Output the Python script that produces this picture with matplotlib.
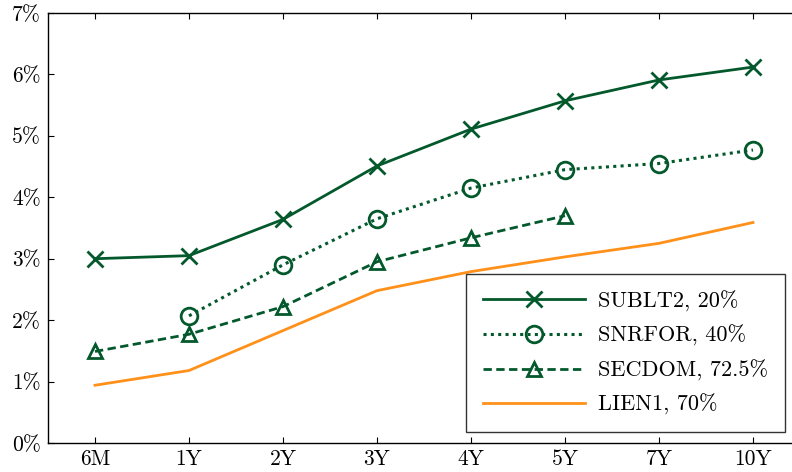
import matplotlib
matplotlib.use("Agg")
import matplotlib.pyplot as plt

# tenors on the x axis
tenors = ["6M", "1Y", "2Y", "3Y", "4Y", "5Y", "7Y", "10Y"]
yticks = [0, 1, 2, 3, 4, 5, 6, 7]
ytick_labels = ["0%", "1%", "2%", "3%", "4%", "5%", "6%", "7%"]

# spreads in percent
sublt2 = [3.00, 3.05, 3.64, 4.51, 5.11, 5.57, 5.91, 6.12]
snrfor = [None, 2.07, 2.90, 3.65, 4.15, 4.45, 4.55, 4.77]
secdom = [1.49, 1.77, 2.22, 2.95, 3.34, 3.70]
lien1 = [0.94, 1.18, 1.83, 2.48, 2.79, 3.03, 3.25, 3.59]

GREEN = "#03592c"
ORANGE = "#ff901a"
FS = 16

plt.rcParams.update(
    {
        "font.family": "cmr10",
        "font.size": FS,
        "axes.unicode_minus": False,
        "mathtext.fontset": "cm",
    }
)

fig = plt.figure(figsize=(7.92, 4.72), dpi=100)
ax = fig.add_axes([48 / 792, 29 / 472, 752 / 792, 430 / 472])

x = list(range(len(tenors)))

ax.plot(x, sublt2, color=GREEN, lw=2, ls="-", marker="x",
        ms=12, mew=2, label="SUBLT2, 20%")
ax.plot(x[1:], snrfor[1:], color=GREEN, lw=2.2, ls=(0, (1, 1.4)),
        marker="o", ms=12, mew=2, mfc="none", label="SNRFOR, 40%")
ax.plot(x[:len(secdom)], secdom, color=GREEN, lw=2, ls=(0, (3, 1.6)),
        marker="^", ms=10, mew=2, mfc="none", label="SECDOM, 72.5%")
ax.plot(x, lien1, color=ORANGE, lw=2, ls="-", label="LIEN1, 70%")

ax.set_xlim(-0.5, 7.5)
ax.set_ylim(0, 7)
ax.set_xticks(x)
ax.set_xticklabels(tenors)
ax.set_yticks(yticks)
ax.set_yticklabels(ytick_labels)
ax.tick_params(direction="in", top=True, right=True, length=4,
               width=0.8, labelsize=15.5, pad=5)
for s in ax.spines.values():
    s.set_linewidth(1.0)

leg = ax.legend(loc="lower right", bbox_to_anchor=(785 / 792, 40 / 472),
                bbox_transform=fig.transFigure, fontsize=FS, frameon=True,
                fancybox=False, edgecolor="black", handlelength=4.6,
                numpoints=1, borderpad=0.75, labelspacing=0.6,
                handletextpad=0.6, borderaxespad=0)
leg.get_frame().set_linewidth(1.0)

fig.savefig("out.png", dpi=100)
